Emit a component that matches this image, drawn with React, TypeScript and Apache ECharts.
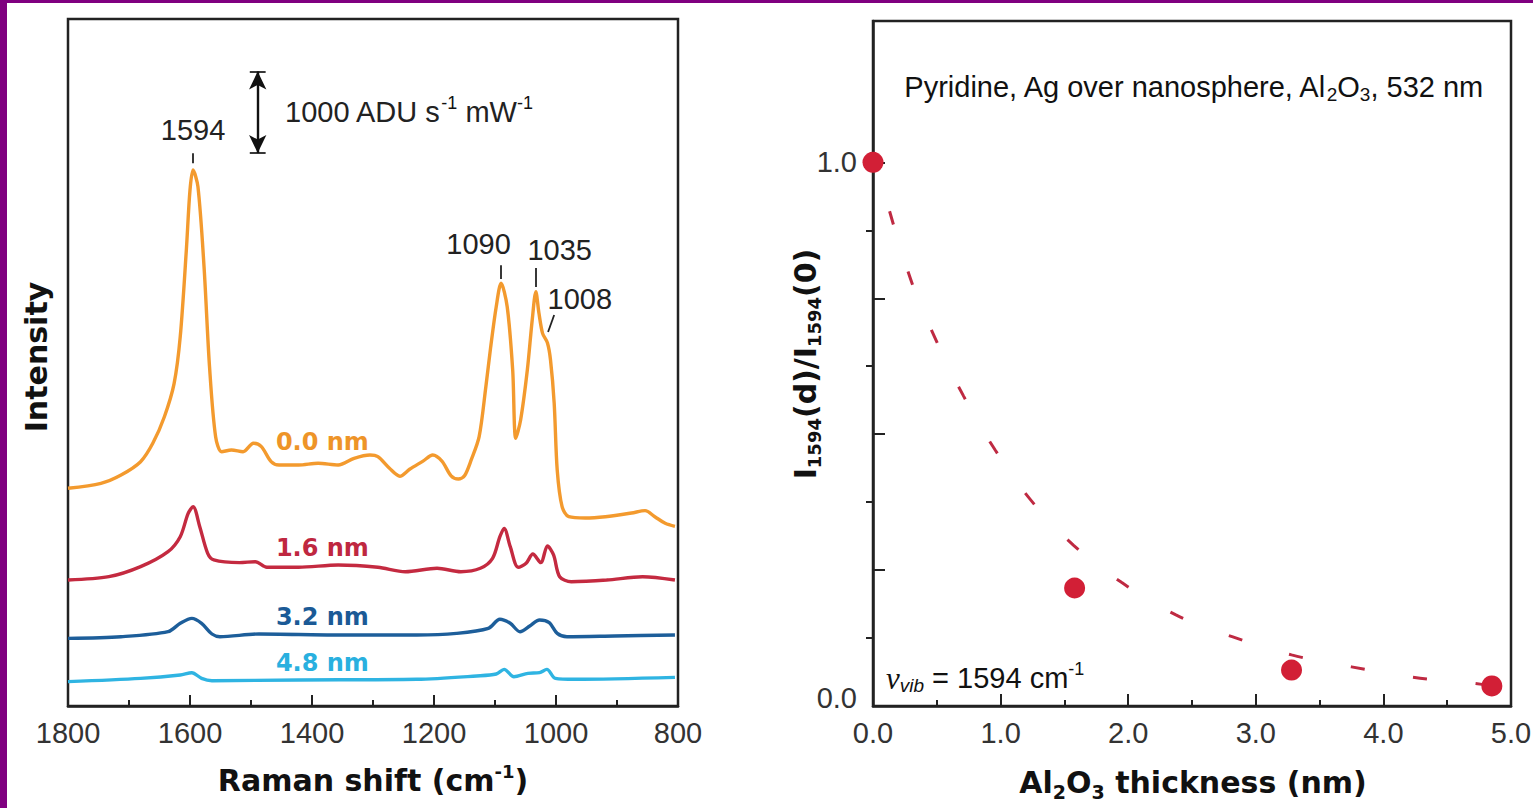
import React, { useEffect, useRef } from "react";
import * as echarts from "echarts";

const SANS = "'Liberation Sans', Arial, Helvetica, sans-serif";
const BOLD = "'DejaVu Sans', 'Liberation Sans', sans-serif";
const SERIF = "'Liberation Serif', 'Times New Roman', serif";

// ---------- Left panel: SERS spectra, [Raman shift (cm-1), intensity (ADU s-1 mW-1, offset)] ----------
const spectrum00: number[][] = [
  [1800, 2667], [1746, 2728], [1713, 2830], [1681, 2993], [1661, 3218], [1642, 3544], [1626, 3953],
  [1616, 4524], [1606, 5586], [1600, 6321], [1595, 6566], [1587, 6362], [1577, 5382], [1568, 4157],
  [1558, 3299], [1548, 3115], [1532, 3136], [1513, 3115], [1496, 3218], [1483, 3177], [1467, 2993],
  [1454, 2952], [1422, 2952], [1390, 2973], [1357, 2952], [1331, 3034], [1305, 3075], [1292, 3054],
  [1273, 2912], [1256, 2815], [1240, 2900], [1218, 3000], [1202, 3075], [1187, 3000], [1172, 2820],
  [1160, 2780], [1150, 2820], [1139, 3014], [1126, 3299], [1115, 3911], [1107, 4402], [1098, 4892],
  [1090, 5178], [1080, 4892], [1071, 4116], [1066, 3279], [1058, 3504], [1047, 4116], [1039, 4729],
  [1033, 5075], [1028, 4814], [1022, 4565], [1014, 4447], [1009, 4239], [1003, 3712], [998, 2891],
  [990, 2442], [979, 2319], [952, 2303], [919, 2319], [876, 2364], [854, 2393], [838, 2319],
  [821, 2238], [805, 2200],
];
const spectrum16: number[][] = [
  [1800, 1543], [1733, 1584], [1681, 1707], [1636, 1891], [1616, 2074], [1603, 2360], [1595, 2442],
  [1584, 2197], [1571, 1870], [1561, 1789], [1519, 1756], [1493, 1768], [1474, 1699], [1422, 1699],
  [1357, 1727], [1292, 1699], [1247, 1645], [1195, 1687], [1156, 1645], [1124, 1687], [1104, 1809],
  [1092, 2074], [1085, 2176], [1075, 1952], [1062, 1699], [1049, 1748], [1038, 1862], [1025, 1756],
  [1014, 1960], [1004, 1850], [994, 1584], [975, 1523], [917, 1543], [858, 1584], [805, 1543],
];
const spectrum32: number[][] = [
  [1800, 829], [1713, 849], [1636, 910], [1616, 1013], [1597, 1074], [1581, 1013], [1564, 882],
  [1551, 849], [1487, 882], [1357, 870], [1228, 870], [1163, 890], [1111, 951], [1092, 1062],
  [1075, 1013], [1059, 910], [1043, 980], [1027, 1054], [1011, 1021], [998, 890], [982, 849],
  [904, 858], [805, 870],
];
const spectrum48: number[][] = [
  [1800, 298], [1681, 339], [1616, 380], [1597, 408], [1581, 339], [1564, 310], [1422, 319],
  [1228, 327], [1130, 368], [1098, 392], [1085, 449], [1069, 359], [1046, 400], [1027, 408],
  [1015, 449], [1001, 339], [969, 327], [805, 351],
];
const traceNames = ["0.0 nm", "1.6 nm", "3.2 nm", "4.8 nm"];
const traceColors = ["#f39a2e", "#c42a40", "#1d5e9a", "#2fb4e2"];
const traceLabelColors = ["#ee9428", "#bf2740", "#1b5a96", "#29b0df"];
const traceLabelPos = [[1383, 3234], [1383, 1936], [1383, 1090], [1383, 527]];

const peakNames = ["1594", "1090", "1035", "1008"];
const peakLabelPos = [[1595, 7056], [1127, 5660], [994, 5586], [961, 4986]];
const peakTicks = [
  [[1596, 6770], [1596, 6648]],
  [[1090, 5400], [1090, 5230]],
  [[1033, 5366], [1033, 5133]],
  [[1003, 4790], [1013, 4582]],
];
// scale bar: 1000 ADU s-1 mW-1
const scaleBarShift = 1489;
const scaleBarFrom = 6774;
const scaleBarTo = 7774;
const scaleCapHalf = 13;

// ---------- Right panel ----------
const thickness = [0, 1.58, 3.28, 4.85];
const ratio = [1.0, 0.217, 0.066, 0.037];
const fitThickness = [0.13, 0.31, 0.5, 0.71, 0.96, 1.25, 1.57, 1.95, 2.37, 2.82, 3.28, 3.75, 4.23, 4.7, 4.85];
const fitRatio = [0.91, 0.775, 0.67, 0.57, 0.47, 0.375, 0.296, 0.227, 0.168, 0.127, 0.094, 0.072, 0.053, 0.042, 0.037];
const rightMajorTicks = [0.25, 0.5, 0.75, 1.0];
const rightMinorTicks = [0.125, 0.375, 0.625, 0.875];
const rightLabels = [0, 1];

const AX = "#222";

export default function App() {
  const ref = useRef<HTMLDivElement>(null);
  useEffect(() => {
    document.body.style.margin = "0";
    const chart = echarts.init(ref.current as HTMLDivElement, null, { renderer: "svg" });
    const tickLabel = { fontFamily: SANS, fontSize: 29, color: "#333" };
    const sub = (size: number, fam: string, weight: string, pad: number) => ({
      fontSize: size, fontFamily: fam, fontWeight: weight, fill: "#111", color: "#111", padding: [pad, 0, 0, 0],
    });
    const sup = (size: number, fam: string, weight: string, pad: number) => ({
      fontSize: size, fontFamily: fam, fontWeight: weight, fill: "#111", color: "#111", padding: [0, 0, pad, 0],
    });
    const option: any = {
      animation: false,
      backgroundColor: "#ffffff",
      grid: [
        { left: 68, top: 19, width: 610, height: 687, show: true, borderColor: AX, borderWidth: 2.5, backgroundColor: "transparent", containLabel: false, outerBoundsMode: "none" },
        { left: 873, top: 21, width: 638, height: 685, show: true, borderColor: AX, borderWidth: 2.5, backgroundColor: "transparent", containLabel: false, outerBoundsMode: "none" },
      ],
      xAxis: [
        {
          gridIndex: 0, type: "value", min: 800, max: 1800, interval: 200, inverse: true,
          axisLine: { show: true, onZero: false, lineStyle: { color: AX, width: 2.5 } },
          axisTick: { show: true, inside: true, length: 11, lineStyle: { color: AX, width: 2 } },
          minorTick: { show: true, splitNumber: 2, length: 6, lineStyle: { color: AX, width: 2 } },
          axisLabel: { ...tickLabel, margin: 12, formatter: (v: number) => String(v) },
          splitLine: { show: false }, minorSplitLine: { show: false },
        },
        {
          gridIndex: 1, type: "value", min: 0, max: 5, interval: 1,
          axisLine: { show: true, onZero: false, lineStyle: { color: AX, width: 2.5 } },
          axisTick: { show: true, inside: true, length: 12, lineStyle: { color: AX, width: 2 } },
          minorTick: { show: true, splitNumber: 2, length: 6, lineStyle: { color: AX, width: 2 } },
          axisLabel: { ...tickLabel, margin: 12, formatter: (v: number) => v.toFixed(1) },
          splitLine: { show: false }, minorSplitLine: { show: false },
        },
      ],
      yAxis: [
        { gridIndex: 0, type: "value", min: 0, max: 8416, show: false, splitLine: { show: false } },
        {
          gridIndex: 1, type: "value", min: 0, max: 1.26,
          axisLine: { show: true, onZero: false, lineStyle: { color: AX, width: 2.5 } },
          axisTick: { show: true, inside: true, length: 12, customValues: rightMajorTicks, lineStyle: { color: AX, width: 2 } },
          axisLabel: {
            ...tickLabel, margin: 16, customValues: rightLabels,
            formatter: (v: number) => (v === 0 ? "{lo|0.0}" : v.toFixed(1)),
            rich: { lo: { fontFamily: SANS, fontSize: 29, color: "#333", padding: [0, 0, 16, 0] } },
          },
          splitLine: { show: false },
        },
        {
          gridIndex: 1, type: "value", min: 0, max: 1.26,
          axisLine: { show: false },
          axisTick: { show: true, inside: true, length: 7, customValues: rightMinorTicks, lineStyle: { color: AX, width: 2 } },
          axisLabel: { show: false },
          splitLine: { show: false },
        },
      ],
      series: [
        ...[spectrum00, spectrum16, spectrum32, spectrum48].map((d, i) => ({
          type: "line", name: traceNames[i], xAxisIndex: 0, yAxisIndex: 0, data: d,
          showSymbol: false, smooth: 0.3, silent: true, z: 2,
          lineStyle: { color: traceColors[i], width: 3.4 },
        })),
        {
          type: "scatter", xAxisIndex: 0, yAxisIndex: 0, symbolSize: 0, silent: true, z: 4,
          itemStyle: { opacity: 1 },
          data: peakLabelPos.map((p, i) => ({ value: p, name: peakNames[i] })),
          label: { show: true, position: "inside", formatter: "{b}", fontFamily: SANS, fontSize: 29, color: "#222", opacity: 1 },
          markLine: {
            silent: true, symbol: ["none", "none"], label: { show: false }, animation: false,
            lineStyle: { color: "#222", width: 1.8, type: "solid", opacity: 1 },
            data: [
              ...peakTicks.map((t) => [{ coord: t[0] }, { coord: t[1] }]),
              [{ coord: [scaleBarShift + scaleCapHalf, scaleBarTo] }, { coord: [scaleBarShift - scaleCapHalf, scaleBarTo] }],
              [{ coord: [scaleBarShift + scaleCapHalf, scaleBarFrom] }, { coord: [scaleBarShift - scaleCapHalf, scaleBarFrom] }],
            ],
          },
        },
        {
          type: "scatter", xAxisIndex: 0, yAxisIndex: 0, symbolSize: 0, silent: true, z: 4,
          itemStyle: { opacity: 1 },
          data: traceLabelPos.map((p, i) => ({ value: p, name: traceNames[i], label: { color: traceLabelColors[i] } })),
          label: { show: true, position: "inside", formatter: "{b}", fontFamily: BOLD, fontWeight: "bold", fontSize: 24, opacity: 1 },
          markLine: {
            silent: true, symbol: ["arrow", "arrow"], symbolSize: [13, 18], label: { show: false }, animation: false,
            lineStyle: { color: "#111", width: 2.4, type: "solid", opacity: 1 },
            data: [[{ coord: [scaleBarShift, scaleBarFrom] }, { coord: [scaleBarShift, scaleBarTo] }]],
          },
        },
        {
          type: "line", xAxisIndex: 1, yAxisIndex: 1, silent: true, z: 2,
          data: fitThickness.map((d, i) => [d, fitRatio[i]]),
          showSymbol: false, smooth: 0.4,
          lineStyle: { color: "#bf2a42", width: 3, type: [14, 49] },
        },
        {
          type: "scatter", xAxisIndex: 1, yAxisIndex: 1, silent: true, z: 3, clip: false,
          data: thickness.map((d, i) => [d, ratio[i]]),
          symbolSize: 21, itemStyle: { color: "#d21f36", opacity: 1 },
        },
      ],
      graphic: [
        { type: "rect", silent: true, shape: { x: 0, y: 0, width: 7, height: 808 }, style: { fill: "#800080" } },
        { type: "rect", silent: true, shape: { x: 0, y: 0, width: 1533, height: 3 }, style: { fill: "#800080" } },
        {
          type: "text", x: 36, y: 357, rotation: Math.PI / 2, silent: true,
          style: { text: "Intensity", fontFamily: BOLD, fontWeight: "bold", fontSize: 30, fill: "#111", align: "center", verticalAlign: "middle" },
        },
        {
          type: "text", x: 373, y: 780, silent: true,
          style: {
            text: "Raman shift (cm{sup|-1})", fontFamily: BOLD, fontWeight: "bold", fontSize: 30, fill: "#111",
            align: "center", verticalAlign: "middle",
            rich: { sup: sup(18, BOLD, "bold", 18) },
          },
        },
        {
          type: "text", x: 1193, y: 782, silent: true,
          style: {
            text: "Al{sub|2}O{sub|3} thickness (nm)", fontFamily: BOLD, fontWeight: "bold", fontSize: 30, fill: "#111",
            align: "center", verticalAlign: "middle",
            rich: { sub: sub(19, BOLD, "bold", 20) },
          },
        },
        {
          type: "text", x: 805, y: 364, rotation: Math.PI / 2, silent: true,
          style: {
            text: "I{sub|1594}(d)/I{sub|1594}(0)", fontFamily: BOLD, fontWeight: "bold", fontSize: 30, fill: "#111",
            align: "center", verticalAlign: "middle",
            rich: { sub: sub(18, BOLD, "bold", 18) },
          },
        },
        {
          type: "text", x: 1193, y: 87, silent: true,
          style: {
            text: "Pyridine, Ag over nanosphere, Al{sub|2}O{sub|3}, 532 nm", fontFamily: SANS, fontSize: 29, fill: "#111",
            align: "center", verticalAlign: "middle",
            rich: { sub: sub(19, SANS, "normal", 14) },
          },
        },
        {
          type: "text", x: 886, y: 678, silent: true,
          style: {
            text: "{nu|\u03bd}{vib|vib} = 1594 cm{sup|-1}", fontFamily: SANS, fontSize: 29, fill: "#111",
            align: "left", verticalAlign: "middle",
            rich: {
              nu: { fontFamily: SERIF, fontStyle: "italic", fontSize: 31, fill: "#111", color: "#111" },
              vib: { fontFamily: SANS, fontStyle: "italic", fontSize: 19, fill: "#111", color: "#111", padding: [14, 0, 0, 0] },
              sup: sup(18, SANS, "normal", 18),
            },
          },
        },
        {
          type: "text", x: 285, y: 112, silent: true,
          style: {
            text: "1000 ADU s{sup|-1} mW{sup|-1}", fontFamily: SANS, fontSize: 29, fill: "#222",
            align: "left", verticalAlign: "middle",
            rich: { sup: sup(18, SANS, "normal", 18) },
          },
        },
      ],
    };
    chart.setOption(option);
    return () => chart.dispose();
  }, []);
  return <div ref={ref} style={{ width: 1533, height: 808, background: "#fff" }} />;
}
